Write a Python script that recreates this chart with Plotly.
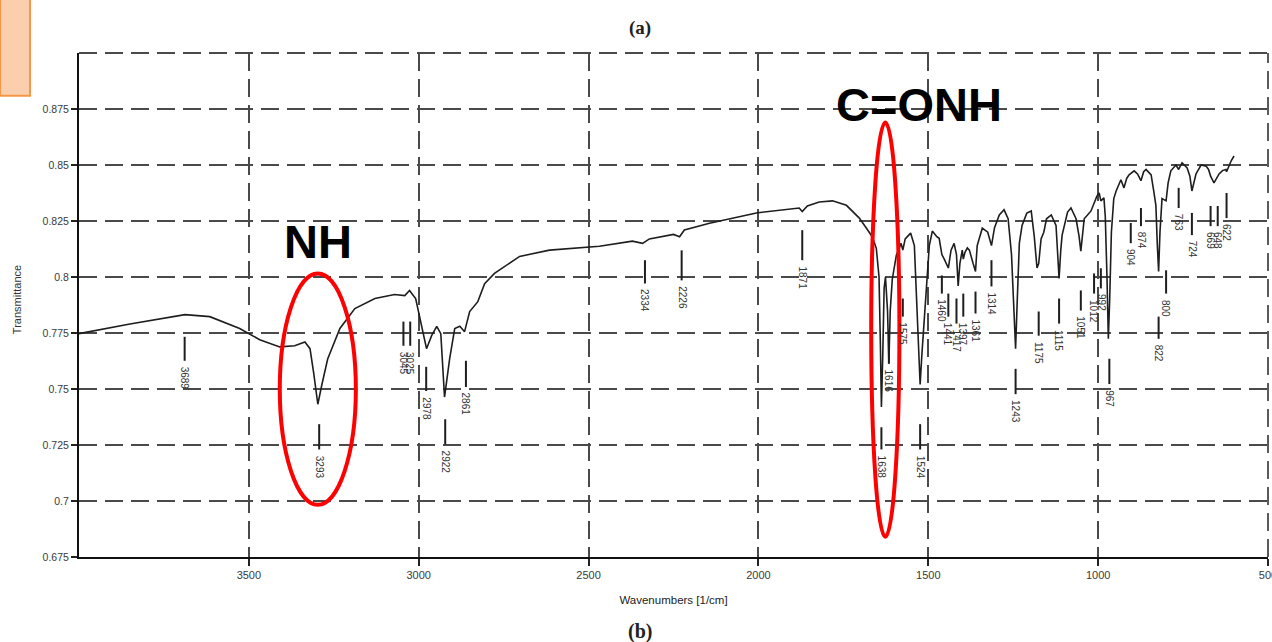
import plotly.graph_objects as go

# ---------------- data ----------------
wavenumber = [4000, 3850, 3688, 3615, 3527, 3468, 3409, 3365, 3335, 3320, 3309, 3297, 3285, 3268,
              3232, 3188, 3129, 3071, 3041, 3027, 3009, 2991, 2977, 2962, 2947, 2935, 2924, 2909,
              2894, 2879, 2865, 2850, 2826, 2806, 2777, 2703, 2615, 2468, 2371, 2341, 2321, 2250,
              2232, 2218, 2144, 2006, 1918, 1880, 1871, 1856, 1821, 1782, 1741, 1703, 1682, 1665,
              1653, 1645, 1641, 1638, 1634, 1630, 1626, 1620, 1616, 1612, 1606, 1594, 1580, 1575,
              1568, 1552, 1541, 1533, 1528, 1524, 1519, 1512, 1506, 1497, 1488, 1475, 1468, 1460,
              1453, 1441, 1433, 1424, 1417, 1412, 1407, 1400, 1397, 1392, 1385, 1379, 1368, 1361,
              1356, 1341, 1325, 1314, 1305, 1291, 1277, 1265, 1255, 1248, 1243, 1238, 1232, 1224,
              1210, 1197, 1188, 1180, 1175, 1168, 1160, 1152, 1138, 1124, 1119, 1115, 1110, 1106,
              1090, 1080, 1065, 1056, 1051, 1046, 1041, 1021, 1012, 1004, 997, 992, 983, 979, 974,
              970, 966, 961, 954, 947, 933, 924, 916, 909, 894, 884, 874, 866, 859, 844, 836, 830,
              826, 822, 818, 812, 800, 794, 786, 771, 763, 753, 738, 730, 724, 718, 712, 697, 682,
              675, 669, 659, 648, 644, 634, 624, 622, 615, 608, 600]
transmittance = [0.7747, 0.7790, 0.7832, 0.7823, 0.7770, 0.7720, 0.7688, 0.7693, 0.7710, 0.7680,
                 0.7570, 0.7432, 0.7520, 0.7634, 0.7770, 0.7859, 0.7904, 0.7922, 0.7917, 0.7940,
                 0.7904, 0.7770, 0.7680, 0.7738, 0.7780, 0.7747, 0.7464, 0.7634, 0.7770, 0.7780,
                 0.7756, 0.7846, 0.7890, 0.7970, 0.8016, 0.8092, 0.8120, 0.8137, 0.8160, 0.8150,
                 0.8170, 0.8190, 0.8180, 0.8210, 0.8240, 0.8286, 0.8300, 0.8308, 0.8292, 0.8317,
                 0.8335, 0.8340, 0.8320, 0.8263, 0.8218, 0.8180, 0.8128, 0.8000, 0.7700, 0.7420,
                 0.7650, 0.7950, 0.8000, 0.7850, 0.7620, 0.7850, 0.7990, 0.8097, 0.8150, 0.8120,
                 0.8170, 0.8196, 0.8140, 0.7850, 0.7620, 0.7520, 0.7650, 0.7800, 0.7917, 0.8140,
                 0.8205, 0.8180, 0.8173, 0.8100, 0.8080, 0.8040, 0.8120, 0.8150, 0.8100, 0.7960,
                 0.8060, 0.8120, 0.8080, 0.8110, 0.8130, 0.8120, 0.8060, 0.8025, 0.8140, 0.8218,
                 0.8200, 0.8140, 0.8220, 0.8277, 0.8300, 0.8260, 0.8100, 0.7850, 0.7680, 0.7900,
                 0.8150, 0.8230, 0.8285, 0.8295, 0.8180, 0.8040, 0.8060, 0.8170, 0.8200, 0.8260,
                 0.8277, 0.8230, 0.8120, 0.7994, 0.8120, 0.8187, 0.8290, 0.8308, 0.8260, 0.8180,
                 0.8115, 0.8200, 0.8260, 0.8295, 0.8330, 0.8360, 0.8375, 0.8340, 0.8353, 0.8270,
                 0.8000, 0.7724, 0.7900, 0.8200, 0.8350, 0.8384, 0.8434, 0.8398, 0.8440, 0.8456,
                 0.8474, 0.8460, 0.8430, 0.8470, 0.8480, 0.8456, 0.8380, 0.8320, 0.8150, 0.8025,
                 0.8200, 0.8350, 0.8340, 0.8420, 0.8474, 0.8500, 0.8480, 0.8510, 0.8487, 0.8450,
                 0.8384, 0.8420, 0.8460, 0.8500, 0.8495, 0.8480, 0.8450, 0.8420, 0.8445, 0.8460,
                 0.8475, 0.8480, 0.8470, 0.8500, 0.8520, 0.8540]

peak_wn = [3689, 3293, 3045, 3025, 2978, 2922, 2861, 2334, 2226, 1871, 1638, 1616, 1575, 1524,
           1460, 1441, 1417, 1397, 1361, 1314, 1243, 1175, 1115, 1051, 1012, 992, 967, 904, 874,
           822, 800, 763, 724, 669, 648, 622]
peak_text = ["3689", "3293", "3045", "3025", "2978", "2922", "2861", "2334", "2226", "1871",
             "1638", "1616", "1575", "1524", "1460", "1441", "1417", "1397", "1361", "1314",
             "1243", "1175", "1115", "1051", "1012", "992", "967", "904", "874", "822", "800",
             "763", "724", "669", "648", "622"]
bar_top = [0.7733, 0.7343, 0.7801, 0.7801, 0.7599, 0.7365, 0.7626, 0.8075, 0.8119, 0.8209,
           0.7329, 0.7724, 0.7904, 0.7343, 0.8007, 0.7926, 0.7904, 0.7926, 0.7935, 0.8075,
           0.7590, 0.7846, 0.7904, 0.7940, 0.8016, 0.8039, 0.7635, 0.8241, 0.8308, 0.7823,
           0.8030, 0.8398, 0.8286, 0.8317, 0.8317, 0.8375]
bar_bottom = [0.7626, 0.7230, 0.7693, 0.7693, 0.7491, 0.7253, 0.7509, 0.7971, 0.7985, 0.8075,
              0.7230, 0.7612, 0.7823, 0.7230, 0.7926, 0.7823, 0.7792, 0.7823, 0.7837, 0.7958,
              0.7477, 0.7738, 0.7792, 0.7850, 0.7926, 0.7949, 0.7522, 0.8151, 0.8227, 0.7724,
              0.7926, 0.8308, 0.8187, 0.8227, 0.8227, 0.8263]

x_ticks = [3500, 3000, 2500, 2000, 1500, 1000, 500]
y_ticks = [0.675, 0.7, 0.725, 0.75, 0.775, 0.8, 0.825, 0.85, 0.875]
y_tick_text = ["0.675", "0.7", "0.725", "0.75", "0.775", "0.8", "0.825", "0.85", "0.875"]

# ---------------- figure ----------------
fig = go.Figure()

fig.add_trace(go.Scatter(x=wavenumber, y=transmittance, mode="lines",
                         line=dict(color="#1e1e1e", width=1.6), showlegend=False,
                         hoverinfo="skip"))

bx, by = [], []
for w, t, b in zip(peak_wn, bar_top, bar_bottom):
    bx += [w, w, None]
    by += [t, b, None]
fig.add_trace(go.Scatter(x=bx, y=by, mode="lines", line=dict(color="#1e1e1e", width=2),
                         showlegend=False, hoverinfo="skip"))

for w, txt, b in zip(peak_wn, peak_text, bar_bottom):
    fig.add_annotation(x=w, y=b, text=txt, showarrow=False, textangle=90,
                       xanchor="center", yanchor="top", yshift=-4,
                       font=dict(family="Arial", size=10, color="#333333"))

grid = dict(showgrid=True, gridcolor="#4a4a4a", gridwidth=1.8, griddash="18px,8px")

fig.update_xaxes(range=[4000, 500], tickvals=x_ticks, ticks="outside", ticklen=7,
                 tickcolor="#222", tickwidth=1.5, showline=True, linecolor="#111",
                 linewidth=2, zeroline=False, ticklabeloverflow="allow", automargin=False,
                 tickfont=dict(family="Arial", size=11, color="#3a3a3a"),
                 title=dict(text="Wavenumbers [1/cm]", standoff=16,
                            font=dict(family="Arial", size=11.5, color="#222")),
                 **grid)
fig.update_yaxes(range=[0.675, 0.9], tickvals=y_ticks, ticktext=y_tick_text,
                 ticks="outside", ticklen=6, tickcolor="#222", tickwidth=1.5,
                 showline=True, linecolor="#111", linewidth=2, zeroline=False,
                 automargin=False,
                 tickfont=dict(family="Arial", size=10.5, color="#3a3a3a"), **grid)

# top and right dashed border
fig.add_shape(type="line", xref="paper", yref="paper", x0=0, x1=1, y0=1, y1=1,
              line=dict(color="#4a4a4a", width=1.8, dash="18px,8px"))
fig.add_shape(type="line", xref="paper", yref="paper", x0=1, x1=1, y0=0, y1=1,
              line=dict(color="#4a4a4a", width=1.8, dash="18px,8px"))

# red ellipses
fig.add_shape(type="circle", xref="x", yref="y", x0=3409, x1=3185, y0=0.6983, y1=0.8016,
              line=dict(color="#ff0000", width=4))
fig.add_shape(type="circle", xref="x", yref="y", x0=1668, x1=1585, y0=0.684, y1=0.869,
              line=dict(color="#ff0000", width=4))

# orange box top-left
fig.add_shape(type="rect", xref="paper", yref="paper", x0=-0.0664, x1=-0.0412,
              y0=0.915, y1=1.11, fillcolor="#fbcfae", line=dict(color="#f79646", width=2),
              layer="above")

fig.add_annotation(x=3297, y=0.816, text="<b>NH</b>", showarrow=False,
                   font=dict(family="Arial", size=47, color="#000"))
fig.add_annotation(x=1527, y=0.877, text="<b>C=ONH</b>", showarrow=False,
                   font=dict(family="Arial", size=47, color="#000"))

fig.add_annotation(xref="paper", yref="paper", x=-0.052, y=0.51, text="Transmittance",
                   textangle=-90, showarrow=False, xanchor="center", yanchor="middle",
                   font=dict(family="Arial", size=11, color="#333"))
fig.add_annotation(xref="paper", yref="paper", x=0.472, y=1.05, text="<b>(a)</b>",
                   showarrow=False, yanchor="middle", xanchor="center",
                   font=dict(family="Times New Roman, Liberation Serif", size=19, color="#222"))
fig.add_annotation(xref="paper", yref="paper", x=0.472, y=-0.148, text="<b>(b)</b>",
                   showarrow=False, yanchor="middle", xanchor="center",
                   font=dict(family="Times New Roman, Liberation Serif", size=20, color="#222"))

fig.update_layout(width=1272, height=642, margin=dict(l=79, r=4, t=53, b=85),
                  paper_bgcolor="white", plot_bgcolor="white", showlegend=False)

fig.write_html("out.html", config={"displayModeBar": False},
               post_script=("document.body.style.margin='0';"
                            "document.body.style.overflow='hidden';"
                            "document.documentElement.style.overflow='hidden';"))
